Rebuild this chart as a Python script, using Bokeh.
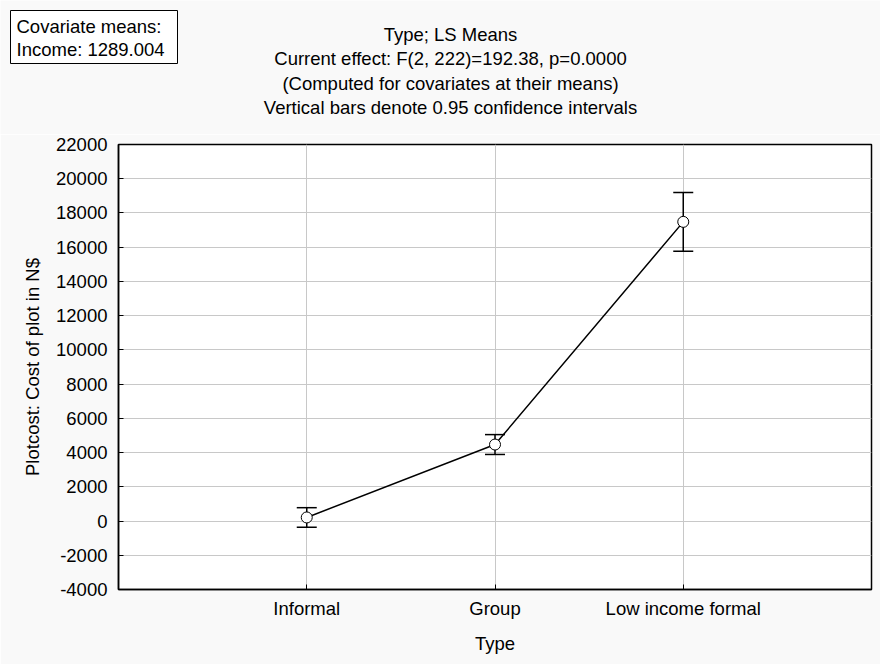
from bokeh.plotting import figure
from bokeh.layouts import column
from bokeh.models import (ColumnDataSource, FactorRange, Range1d, FixedTicker,
                          Whisker, TeeHead)
from bokeh.core.properties import value
from bokeh.embed import file_html
from bokeh.resources import INLINE

# LS means of plot cost by settlement type, with 0.95 confidence limits
types = ["Informal", "Group", "Low income formal"]
ls_means = [210, 4470, 17480]
ci_lower = [-360, 3890, 15770]
ci_upper = [780, 5050, 19190]

y_ticks = [-4000, -2000, 0, 2000, 4000, 6000, 8000, 10000, 12000,
           14000, 16000, 18000, 20000, 22000]
y_tick_labels = ["-4000", "-2000", "0", "2000", "4000", "6000", "8000", "10000",
                 "12000", "14000", "16000", "18000", "20000", "22000"]

title_lines = [
    "Type; LS Means",
    "Current effect: F(2, 222)=192.38, p=0.0000",
    "(Computed for covariates at their means)",
    "Vertical bars denote 0.95 confidence intervals",
]
covariate_lines = ["Covariate means:", "Income: 1289.004"]

FONT = "Liberation Sans"
FS = "18.5px"
BG = "#f9f9f9"

W = 880
HEAD_H = 134
MAIN_H = 530

# ---------- header strip: titles and covariate box, in pixel coordinates ----------
head = figure(
    width=W, height=HEAD_H,
    x_range=Range1d(0, W), y_range=Range1d(HEAD_H, 0),
    x_axis_type=None, y_axis_type=None,
    output_backend="svg", toolbar_location=None,
    min_border=0, background_fill_color=BG, border_fill_color=BG,
    frame_align=False,
)
head.outline_line_color = None

title_y = [34 + 24.4 * i for i in range(len(title_lines))]
head.text(x=[450] * len(title_lines), y=title_y, text=title_lines,
          text_font=value(FONT), text_font_size=value(FS), text_color="black",
          text_align="center", text_baseline="middle")

head.quad(left=[10], right=[177], top=[10], bottom=[63],
          fill_color="white", line_color="black", line_width=1)
head.text(x=[16, 16], y=[26, 49], text=covariate_lines,
          text_font=value(FONT), text_font_size=value(FS), text_color="black",
          text_align="left", text_baseline="middle")

# ---------- main chart ----------
src = ColumnDataSource(dict(x=types, mean=ls_means, lower=ci_lower, upper=ci_upper))

p = figure(
    width=W, height=MAIN_H,
    x_range=FactorRange(factors=types, range_padding=0.5, range_padding_units="absolute"),
    y_range=Range1d(-4000, 22000),
    output_backend="svg", toolbar_location=None,
    min_border_left=118, min_border_right=9,
    min_border_top=10, min_border_bottom=75,
    background_fill_color="white", border_fill_color=BG,
    frame_align=False,
)

p.outline_line_color = "black"
p.outline_line_width = 1.5
p.outline_line_alpha = 1

for g in (p.xgrid, p.ygrid):
    g.grid_line_color = "#c8c8c8"
    g.grid_line_width = 1

p.yaxis.ticker = FixedTicker(ticks=y_ticks)
p.yaxis.major_label_overrides = dict(zip(y_ticks, y_tick_labels))

for ax in (p.xaxis, p.yaxis):
    ax.axis_line_color = "black"
    ax.axis_line_width = 1.5
    ax.major_tick_in = 5
    ax.major_tick_out = 0
    ax.major_tick_line_color = "black"
    ax.minor_tick_line_color = None
    ax.major_label_text_font = FONT
    ax.major_label_text_font_size = FS
    ax.major_label_text_color = "black"
    ax.axis_label_text_font = FONT
    ax.axis_label_text_font_size = FS
    ax.axis_label_text_font_style = "normal"
    ax.axis_label_text_color = "black"

p.xaxis.axis_label = "Type"
p.yaxis.axis_label = "Plotcost: Cost of plot in N$"
p.xaxis.major_label_standoff = 8
p.xaxis.axis_label_standoff = 11
p.yaxis.major_label_standoff = 11
p.yaxis.axis_label_standoff = 10

# confidence intervals
whisker = Whisker(
    base="x", upper="upper", lower="lower", source=src,
    line_color="black", line_width=1.5, level="underlay",
    upper_head=TeeHead(size=20, line_color="black", line_width=1.5),
    lower_head=TeeHead(size=20, line_color="black", line_width=1.5),
)
p.add_layout(whisker)

p.line(x="x", y="mean", source=src, line_color="black", line_width=1.5)
p.scatter(x="x", y="mean", source=src, size=11, fill_color="white",
          line_color="black", line_width=1)

layout = column(head, p, spacing=0)

open("out.html", "w").write(file_html(layout, INLINE))
